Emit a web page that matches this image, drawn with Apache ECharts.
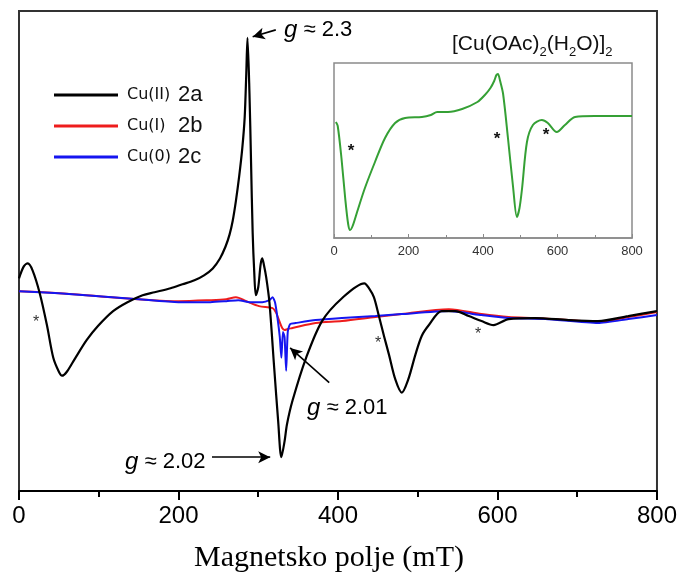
<!DOCTYPE html>
<html>
<head>
<meta charset="utf-8">
<script src="https://cdn.jsdelivr.net/npm/echarts@6/dist/echarts.min.js"></script>
<style>html,body{margin:0;padding:0;background:#fff}#c{width:680px;height:578px}</style>
</head>
<body>
<div id="c"></div>
<script>
// Main spectrum: magnetic field (mT) and intensity (arb. units)
const cu2Field = [0,6,11,17,26,35,43,50,54,60,70,85,99,118,136,155,170,190,205,220,232,243,252,259,264,268,272,276,280,283,285,286.5,289,291,293,295,297,300,303,305,307,310,314,320,325,329,333,336,343,360,380,405,433,439,445,451,458,464,472,480,488,497,505,514,530,547,564,580,595,614,647,689,726,764,800];
const cu2Int   = [214,226,229,222,199,167,134,120,116,120,133,152,166,181,190,197,200,204,208,212,217,224,234,246,258,272,292,316,345,376,420,456,400,330,260,220,197,205,228,234,228,215,190,124,70,34,50,67,91,134,171,194,209,204,195,177,155,137,112,99,112,137,156,167,181,181,176,171,167,173,174,172,171,176,181];

const cu1Field = [0,50,100,150,200,240,260,272,285,301,318,322,326,330,333,337,343,372,405,447,480,539,580,614,647,689,726,764,800];
const cu1Int   = [201,199,196,193,191,192,193,195,191,186,184,180,172,164,162,163,164,169,171,175,178,183,178,175,174,172,170,175,180];

const cu0Field = [0,50,100,150,200,240,260,275,290,305,314,318,321,324,327,329,331,333,335,337,340,347,372,405,447,480,539,580,614,660,726,764,800];
const cu0Int   = [201,199,196,193,190,190,191,192,190,190,192,195,190,175,155,134,160,155,121,160,168,169,172,174,176,178,181,177,174,173,169,173,177];

// Inset: [Cu(OAc)2(H2O)]2
const refField = [5,10,20,30,38,43,50,62,83,110,137,164,191,236,260,277,306,344,385,405,420,430,436,440,446,454,467,481,491,498,505,518,534,558,574,598,620,647,700,800];
const refInt   = [116,112,80,40,14,8,12,26,50,76,100,115,120,121,123,126,126,129,136,143,150,157,163,164,157,144,100,50,21,30,50,96,113,118,115,106,113,121,122,122];

const seriesNames = ['Cu(II) 2a','Cu(I) 2b','Cu(0) 2c'];
const legendA = {'Cu(II) 2a':'Cu(II)','Cu(I) 2b':'Cu(I)','Cu(0) 2c':'Cu(0)'};
const legendB = {'Cu(II) 2a':'2a','Cu(I) 2b':'2b','Cu(0) 2c':'2c'};

function pairs(xs, ys){ return xs.map((x,i)=>[x, ys[i]]); }

const chart = echarts.init(document.getElementById('c'), null, {renderer:'canvas'});
const SANS = 'Liberation Sans, Arial, sans-serif';

const arrowLine = (a, b) => [{coord:a},{coord:b}];

chart.setOption({
  animation:false,
  backgroundColor:'#fff',
  grid:[
    {left:19, right:22, top:11, bottom:84, show:true, borderColor:'#333', borderWidth:2, backgroundColor:'transparent'},
    {left:334, top:63, width:298, height:175, show:true, borderColor:'#8a8a8a', borderWidth:1.5, backgroundColor:'#fff'}
  ],
  legend:{
    data:seriesNames, orient:'vertical', left:49, top:79, itemWidth:64, itemHeight:3, itemGap:9, icon:'rect',
    formatter: n => '{a|'+legendA[n]+'}{b|'+legendB[n]+'}',
    textStyle:{
      rich:{
        a:{fontFamily:'DejaVu Sans', fontSize:16, color:'#111', width:51, padding:[0,0,0,4]},
        b:{fontFamily:SANS, fontSize:22, color:'#111'}
      }
    },
    selectedMode:false
  },
  xAxis:[
    {gridIndex:0, type:'value', min:0, max:800, interval:200,
     axisLine:{show:true, onZero:false, lineStyle:{color:'#000', width:2}},
     axisTick:{show:true, length:9, lineStyle:{color:'#000', width:2}},
     minorTick:{show:true, splitNumber:2, length:6, lineStyle:{color:'#000', width:2}},
     splitLine:{show:false},
     axisLabel:{fontFamily:SANS, fontSize:24, color:'#000', margin:13},
     name:'Magnetsko polje (mT)', nameLocation:'middle', nameGap:52,
     nameTextStyle:{fontFamily:'Liberation Serif, Times New Roman, serif', fontSize:30, color:'#000', padding:[0,18,0,0]}
    },
    {gridIndex:1, type:'value', min:0, max:800, interval:200,
     axisLine:{show:true, onZero:false, lineStyle:{color:'#8a8a8a', width:1.5}},
     axisTick:{show:true, inside:true, length:4, lineStyle:{color:'#8a8a8a'}},
     minorTick:{show:true, splitNumber:2, length:3, lineStyle:{color:'#8a8a8a'}},
     splitLine:{show:false},
     axisLabel:{fontFamily:SANS, fontSize:13, color:'#333', margin:7}
    }
  ],
  yAxis:[
    {gridIndex:0, type:'value', min:0, max:483, show:false, splitLine:{show:false}},
    {gridIndex:1, type:'value', min:0, max:175, show:false, splitLine:{show:false}}
  ],
  series:[
    {name:seriesNames[0], type:'line', xAxisIndex:0, yAxisIndex:0, data:pairs(cu2Field,cu2Int),
     showSymbol:false, smooth:0.3, z:5, lineStyle:{color:'#000', width:2.2}, itemStyle:{color:'#000'},
     markLine:{silent:true, symbol:['none','arrow'], symbolSize:[9,12], label:{show:false},
       lineStyle:{color:'#000', width:1.6, type:'solid'},
       data:[
         arrowLine([322,464],[293,457]),
         arrowLine([242,34],[315,34]),
         arrowLine([389,109],[340,144])
       ]}
    },
    {name:seriesNames[1], type:'line', xAxisIndex:0, yAxisIndex:0, data:pairs(cu1Field,cu1Int),
     showSymbol:false, smooth:0.3, z:3, lineStyle:{color:'#ee1c1c', width:2}, itemStyle:{color:'#ee1c1c'}},
    {name:seriesNames[2], type:'line', xAxisIndex:0, yAxisIndex:0, data:pairs(cu0Field,cu0Int),
     showSymbol:false, smooth:0.2, z:4, lineStyle:{color:'#1515f0', width:2}, itemStyle:{color:'#1515f0'}},
    {name:'ref', type:'line', xAxisIndex:1, yAxisIndex:1, data:pairs(refField,refInt),
     showSymbol:false, smooth:0.3, lineStyle:{color:'#35a035', width:2}, itemStyle:{color:'#35a035'}}
  ],
  graphic:[
    {type:'text', x:284, y:30, style:{text:'{g|g} ≈ 2.3', font:'22px '+SANS, fill:'#000', verticalAlign:'middle',
      rich:{g:{fontStyle:'italic', fontSize:24, fontFamily:SANS, fill:'#000'}}}},
    {type:'text', x:125, y:462, style:{text:'{g|g} ≈ 2.02', font:'22px '+SANS, fill:'#000', verticalAlign:'middle',
      rich:{g:{fontStyle:'italic', fontSize:24, fontFamily:SANS, fill:'#000'}}}},
    {type:'text', x:307, y:408, style:{text:'{g|g} ≈ 2.01', font:'22px '+SANS, fill:'#000', verticalAlign:'middle',
      rich:{g:{fontStyle:'italic', fontSize:24, fontFamily:SANS, fill:'#000'}}}},
    {type:'text', x:452, y:44, style:{text:'[Cu(OAc){s|2}(H{s|2}O)]{s|2}', font:'21px '+SANS, fill:'#111', verticalAlign:'middle',
      rich:{s:{fontSize:13, fontFamily:SANS, fill:'#111', padding:[16,0,0,0]}}}},
    {type:'text', x:36, y:323, style:{text:'*', font:'16px '+SANS, fill:'#333', align:'center', verticalAlign:'middle'}},
    {type:'text', x:378, y:344, style:{text:'*', font:'16px '+SANS, fill:'#333', align:'center', verticalAlign:'middle'}},
    {type:'text', x:478, y:335, style:{text:'*', font:'16px '+SANS, fill:'#333', align:'center', verticalAlign:'middle'}},
    {type:'text', x:351, y:151, style:{text:'*', font:'bold 17px '+SANS, fill:'#111', align:'center', verticalAlign:'middle'}},
    {type:'text', x:497, y:139, style:{text:'*', font:'bold 17px '+SANS, fill:'#111', align:'center', verticalAlign:'middle'}},
    {type:'text', x:546, y:135, style:{text:'*', font:'bold 17px '+SANS, fill:'#111', align:'center', verticalAlign:'middle'}}
  ]
});
</script>
</body>
</html>
